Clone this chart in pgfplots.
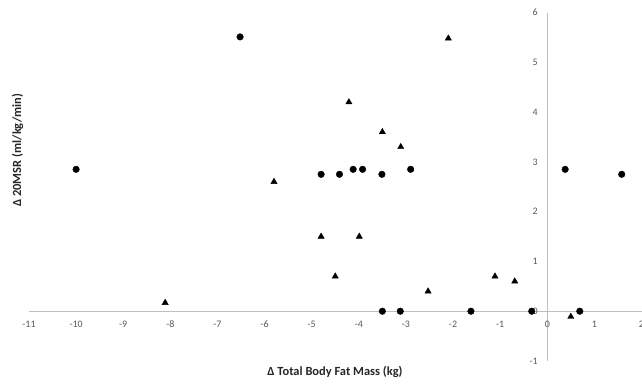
\documentclass[border=0pt]{standalone}
\usepackage{pgfplots}
\pgfplotsset{compat=1.18}
\usepackage{fontspec}
\setmainfont{Carlito}
\definecolor{axisgray}{HTML}{BFBFBF}
\definecolor{ticktext}{HTML}{595959}
\definecolor{labeltext}{HTML}{262626}
\begin{document}
\begin{tikzpicture}[x=1bp,y=1bp]
\begin{axis}[
  at={(29bp,23bp)}, anchor=south west,
  scale only axis, width=612.5bp, height=348.5bp,
  xmin=-11, xmax=2, ymin=-1, ymax=6,
  axis lines=middle,
  axis line style={axisgray, line width=0.8pt, -},
  xtick={-11,-10,-9,-8,-7,-6,-5,-4,-3,-2,-1,0.0001,1,2},
  xticklabels={-11,-10,-9,-8,-7,-6,-5,-4,-3,-2,-1,0,1,2},
  ytick={-1,0,...,6},
  hide obscured x ticks=false, hide obscured y ticks=false,
  major tick length=0pt,
  /pgf/number format/assume math mode=true,
  tick label style={font=\fontsize{10}{12}\selectfont, text=ticktext},
  xticklabel style={anchor=north, yshift=-6bp},
  yticklabel style={anchor=east, xshift=-6bp},
  xlabel={Δ Total Body Fat Mass (kg)},
  ylabel={Δ 20MSR (ml/kg/min)},
  label style={font=\bfseries\fontsize{12.5}{14}\selectfont, text=labeltext},
  xlabel style={at={(axis description cs:0.4996,-0.0300)}, anchor=center},
  ylabel style={at={(axis description cs:-0.0188,0.605)}, anchor=center, rotate=90},
  clip=false,
]
\addplot[only marks, mark=*, mark size=3.3bp, black] coordinates {
(-10,2.85) (-6.52,5.51)
(-4.8,2.75) (-4.41,2.75) (-4.12,2.85) (-3.92,2.85) (-3.51,2.75) (-2.9,2.85)
(0.38,2.85) (1.58,2.75)
(-3.5,0) (-3.12,0) (-1.62,0) (-0.33,0) (0.69,0)
};
\addplot[only marks, mark=triangle*, mark size=3.6bp, black] coordinates {
(-8.11,0.17) (-5.8,2.6) (-4.21,4.2) (-3.5,3.6) (-3.11,3.3) (-2.1,5.48)
(-4.8,1.5) (-3.99,1.5) (-4.5,0.7) (-2.53,0.4) (-1.11,0.7) (-0.69,0.6) (0.5,-0.11)
};
\end{axis}
\pgfresetboundingbox
\path (0,0) rectangle (642bp,384bp);
\end{tikzpicture}
\end{document}
